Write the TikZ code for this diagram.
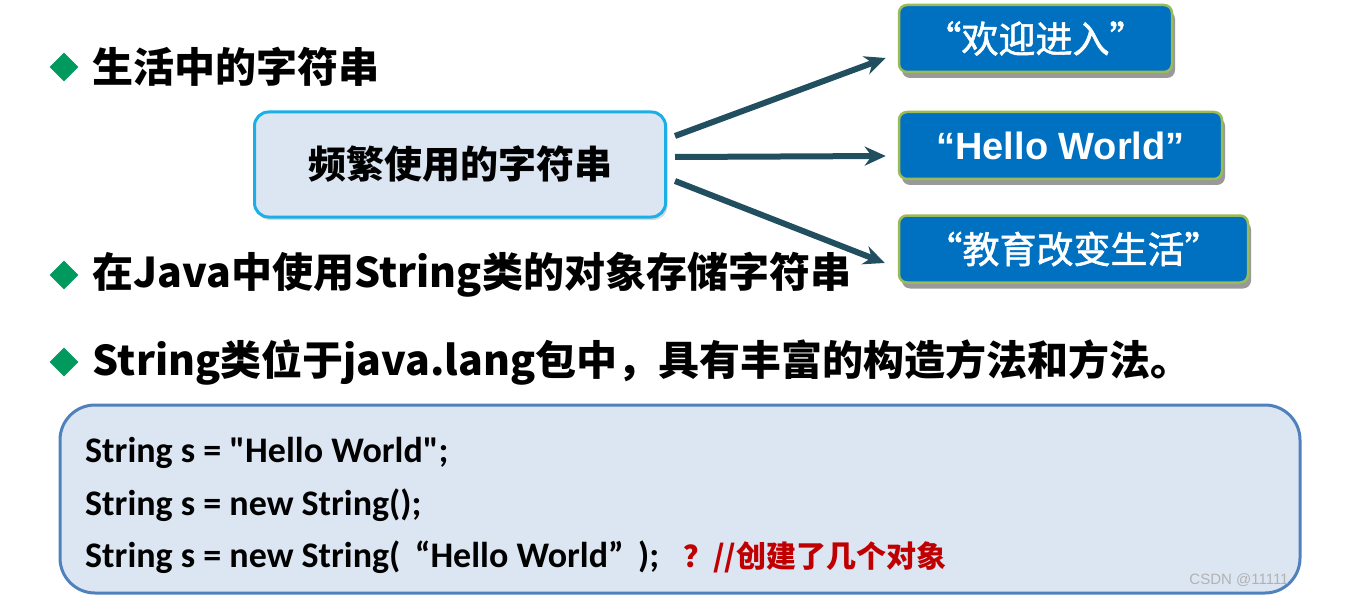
\documentclass[tikz,border=0pt]{standalone}
\usepackage{fontspec}
\setmainfont{Carlito}
\newfontfamily\codefont{Carlito}
\newfontfamily\cjk{Noto Sans CJK SC}
\newfontfamily\cjkmed{Noto Sans CJK SC}[FakeBold=1.5]
\newfontfamily\arial{Liberation Sans}
\usetikzlibrary{shapes.geometric,positioning,shadows,arrows.meta}
\definecolor{bulletgreen}{HTML}{00995E}
\definecolor{arrowteal}{HTML}{214F60}
\definecolor{freqfill}{HTML}{DCE6F2}
\definecolor{freqborder}{HTML}{1AAFE6}
\definecolor{strfill}{HTML}{0070C0}
\definecolor{strborder}{HTML}{9BBB59}
\definecolor{codeborder}{HTML}{4F81BD}
\definecolor{notered}{HTML}{C00000}
\begin{document}
\begin{tikzpicture}[x=1pt,y=1pt,node distance=14pt]
        % Style Definitions
        \tikzstyle{bullet} = [diamond, fill=bulletgreen, inner sep=0pt, minimum size=29pt]
        \tikzstyle{heading} = [inner sep=0pt, font=\cjk\bfseries\fontsize{41}{48}\selectfont]
        \tikzstyle{freqbox} = [rectangle, rounded corners=14pt, draw=freqborder, fill=freqfill, line width=3pt, minimum width=411pt, minimum height=105pt, font=\cjk\bfseries\fontsize{38}{44}\selectfont, drop shadow={shadow xshift=2pt, shadow yshift=-3pt, opacity=0.3}]
        \tikzstyle{strbox} = [rectangle, rounded corners=8pt, draw=strborder, fill=strfill, line width=2.5pt, minimum height=67pt, text=white, font=\cjkmed\fontsize{37}{42}\selectfont, drop shadow={shadow xshift=3pt, shadow yshift=-6pt, fill=gray!80, opacity=1}]
        \tikzstyle{arr} = [-{Stealth[length=21pt,width=19pt]}, line width=6pt, draw=arrowteal]
        \tikzstyle{codebox} = [rectangle, rounded corners=35pt, draw=codeborder, fill=freqfill, line width=3pt, minimum width=1240pt, minimum height=188pt]
        \tikzstyle{codeline} = [anchor=west, inner sep=0pt, font=\codefont\bfseries\fontsize{36}{42}\selectfont]

        \useasboundingbox (0,0) rectangle (1372,-596);

        % Nodes
        \node (dot1) [bullet] at (64,-67) {};
        \node (head1) [heading, right=of dot1] {生活中的字符串};
        \node (dot2) [bullet] at (64,-275) {};
        \node (head2) [heading, right=of dot2] {在Java中使用String类的对象存储字符串};
        \node (dot3) [bullet] at (64,-362) {};
        \node (head3) [heading, right=of dot3] {String类位于java.lang包中，具有丰富的构造方法和方法。};

        \node (freq) [freqbox] at (460,-164.5) {频繁使用的字符串};
        \node (welcome) [strbox, minimum width=273pt] at (1035.5,-38.5) {“欢迎进入”};
        \node (hello) [strbox, minimum width=323pt] at (1060.5,-145.5) {{\arial\bfseries\fontsize{38}{42}\selectfont “Hello World”}};
        \node (edu) [strbox, minimum width=349pt] at (1073.5,-249) {“教育改变生活”};

        \node (code) [codebox] at (680,-499) {};
        \node (line1) [codeline] at (85,-453) {String s = "Hello World";};
        \node (line2) [codeline] at (85,-505) {String s = new String();};
        \node (line3) [codeline] at (85,-557) {String s = new String(\hspace{0.4em}“Hello World”\hspace{0.4em});};
        \node (note) [codeline, text=notered, font=\cjk\bfseries\fontsize{30}{36}\selectfont] at (683,-557) {？//创建了几个对象};
        \node (mark) [inner sep=0pt, text=gray!60, font=\arial\fontsize{15}{15}\selectfont] at (1239,-580) {CSDN @11111};

        % Arrows
        \draw[arr] ([xshift=8pt,yshift=28.5pt]freq.east) -- ([xshift=-12pt,yshift=-19.5pt]welcome.west);
        \draw[arr] ([xshift=8pt,yshift=7.5pt]freq.east) -- ([xshift=-12pt,yshift=-10.5pt]hello.west);
        \draw[arr] ([xshift=8pt,yshift=-16.5pt]freq.east) -- ([xshift=-13pt,yshift=-14pt]edu.west);

    \end{tikzpicture}
\end{document}
